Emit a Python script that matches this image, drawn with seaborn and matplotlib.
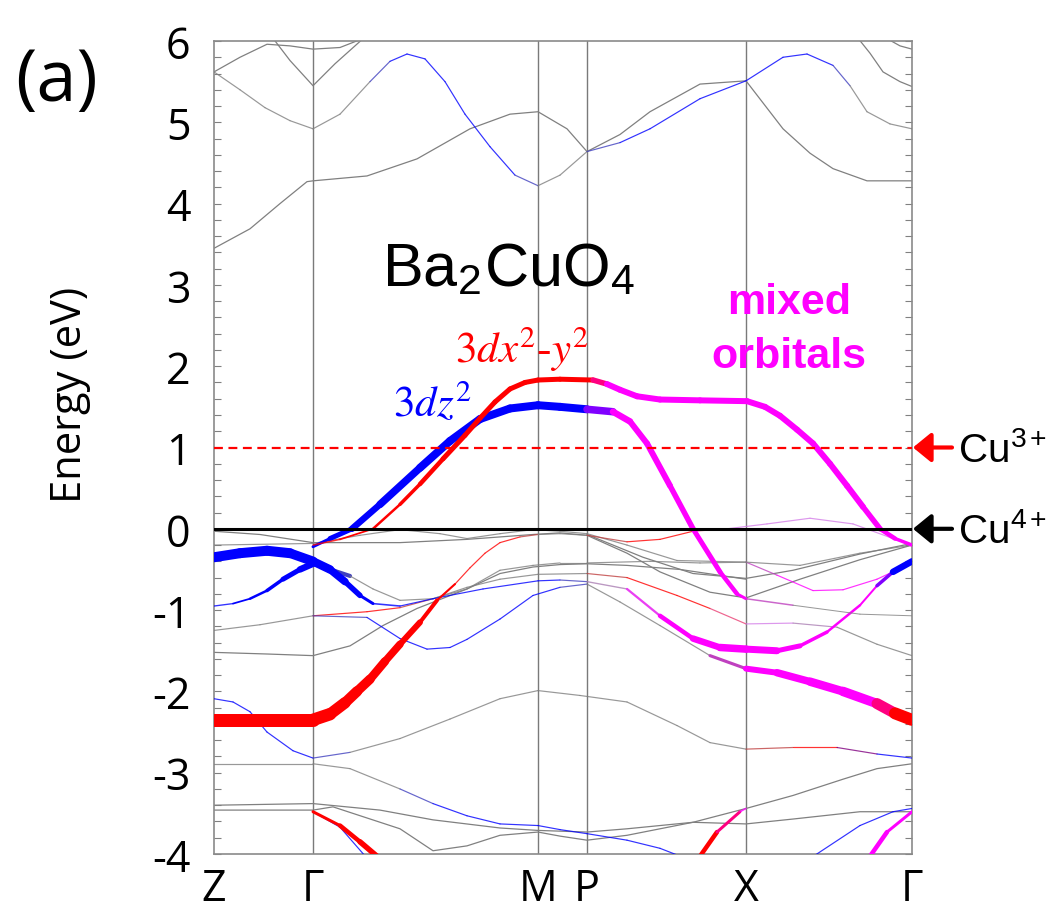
"""
Ba2CuO4 fat-band structure (Z-G-M-P-X-G) with Cu 3d orbital character.
Thin grey bands through seaborn, orbital-projected bands as LineCollections.
"""

import matplotlib
matplotlib.use("Agg")
import matplotlib.pyplot as plt
from matplotlib.collections import LineCollection
from matplotlib.colors import to_rgba
from matplotlib.ticker import MultipleLocator
import numpy as np
import pandas as pd
import seaborn as sns

# high-symmetry path
HS_K = [0.00, 0.99, 3.24, 3.73, 5.32, 6.98]
HS_LABELS = ["Z", "Γ", "M", "P", "X", "Γ"]

# --- orbital-projected bands (k, E in eV, fat-band weight, orbital character) ---
# b = 3dz2, r = 3dx2-y2, m = mixed, p = weak mixed, g = none
A_K = [0.99, 1.16, 1.38, 1.66, 2.06, 2.36, 2.66, 2.96, 3.24, 3.46, 3.73, 3.99, 4.16, 4.33,
       4.56, 4.79, 5.06, 5.23, 5.32, 5.79, 6.46, 6.98]
A_E = [-0.22, -0.12, 0.00, 0.30, 0.75, 1.08, 1.35, 1.48, 1.52, 1.50, 1.47, 1.44, 1.32, 1.05,
       0.53, 0.00, -0.53, -0.80, -0.86, -0.94, -1.05, -1.07]
A_W = [2, 4, 6, 7, 8, 8, 8, 8, 8, 8, 8, 7, 6, 6, 6, 5, 5, 4, 2, 1, 1, 1]
A_ORB = "bbbbbbbbbbbmmmmmmmmggg"

B_K = [0.99, 1.26, 1.59, 1.86, 2.06, 2.29, 2.51, 2.66, 2.81, 2.96, 3.11, 3.24, 3.46, 3.79,
       3.93, 4.06, 4.23, 4.46, 4.86, 5.33, 5.51, 5.66, 5.83, 5.99, 6.16, 6.33, 6.49, 6.66,
       6.81, 6.98]
B_E = [-0.20, -0.13, 0.00, 0.30, 0.55, 0.86, 1.15, 1.36, 1.56, 1.72, 1.80, 1.83, 1.84, 1.83,
       1.78, 1.71, 1.63, 1.59, 1.58, 1.57, 1.50, 1.39, 1.22, 1.05, 0.80, 0.53, 0.27, 0.00,
       -0.12, -0.20]
B_W = [1.5, 1.5, 2, 3, 4, 5, 5, 5, 5, 5, 5, 5, 5, 5, 6, 6, 6, 6, 6, 6, 6, 6, 6, 6, 6, 6, 6,
       5, 4, 3]
B_ORB = "rrrrrrrrrrrrrrmmmmmmmmmmmmmmmm"

C_K = [0.00, 0.46, 0.99, 1.16, 1.31, 1.43, 1.56, 1.71, 1.86, 2.06, 2.23, 2.41, 2.56, 2.71,
       2.86, 3.06, 3.24, 3.46, 3.73, 4.13, 4.46, 4.79, 5.13, 5.53, 5.96, 6.39, 6.79, 6.98]
C_E = [-2.35, -2.35, -2.35, -2.28, -2.14, -2.00, -1.85, -1.63, -1.42, -1.15, -0.88, -0.68,
       -0.48, -0.30, -0.17, -0.10, -0.07, -0.06, -0.08, -0.16, -0.13, -0.03, 0.00, 0.06, 0.13,
       0.06, -0.12, -0.20]
C_W = [13, 13, 13, 12, 11, 10, 9, 8, 7, 5, 3, 1.2, 1.2, 1.2, 1.2, 1.2, 1.2, 1.2, 1.2, 1.2,
       1.2, 1.2, 1.2, 1.2, 1.2, 1.2, 1.2, 1.2]
C_ORB = "rrrrrrrrrrrrrrrrgggrrrpppppp"

D_K = [0.00, 0.26, 0.53, 0.76, 0.99, 1.16, 1.31, 1.46, 1.59, 1.86, 2.19, 2.69, 3.24, 3.46,
       3.73, 4.13, 4.46, 4.79, 5.06, 5.32, 5.63, 5.86, 6.13, 6.46, 6.63, 6.79, 6.98]
D_E = [-0.35, -0.30, -0.27, -0.30, -0.40, -0.50, -0.65, -0.82, -0.92, -0.95, -0.86, -0.74,
       -0.64, -0.63, -0.65, -0.74, -1.07, -1.35, -1.46, -1.48, -1.50, -1.44, -1.27, -0.94,
       -0.70, -0.53, -0.40]
D_W = [10, 10, 10, 10, 9, 8, 7, 4, 2, 1.2, 1.2, 1.2, 1.2, 1.2, 1.2, 1.5, 3, 6, 7, 8, 6, 4,
       3, 2, 2, 5, 8]
D_ORB = "bbbbbbbbbbbbbbgpmmmmmmmmmbb"

E_K = [0.00, 0.19, 0.36, 0.53, 0.69, 0.86, 0.99, 1.36, 1.59, 1.86, 2.19, 2.53, 2.86, 3.19,
       3.46, 3.73, 4.36, 4.86, 5.32, 5.86, 6.46, 6.98]
E_E = [-0.95, -0.92, -0.86, -0.76, -0.62, -0.50, -0.43, -0.58, -0.74, -0.88, -0.86, -0.74,
       -0.51, -0.45, -0.42, -0.42, -0.40, -0.42, -0.41, -0.45, -0.30, -0.20]
E_W = [1.2, 1.5, 2, 3, 4, 6, 7, 1.2, 1.2, 1.2, 1.2, 1.2, 1.2, 1.2, 1.2, 1.2, 1.2, 1.2, 1.2,
       1.2, 1.2, 1.2]
E_ORB = "bbbbbbbggggggggggggggg"

G_K = [0.00, 0.46, 0.99, 1.53, 1.86, 2.13, 2.36, 2.53, 2.86, 3.19, 3.46, 3.73, 4.06, 4.46,
       4.96, 5.32, 5.63, 5.96, 6.29, 6.63, 6.81, 6.98]
G_E = [-1.25, -1.18, -1.07, -1.09, -1.35, -1.48, -1.46, -1.36, -1.11, -0.82, -0.72, -0.68,
       -0.90, -1.19, -1.56, -1.72, -1.77, -1.88, -2.00, -2.15, -2.27, -2.35]
G_W = [1.2] * 15 + [5, 7, 8, 9, 10, 12, 12]
G_ORB = "gggbbbbbbbbggggmmmmmrr"

H_K = [0.99, 1.53, 1.86, 2.19, 2.53, 2.86, 3.24, 3.73, 4.13, 4.63, 4.96, 5.32, 5.79, 6.23,
       6.63, 6.98]
H_E = [-1.07, -1.02, -0.97, -0.86, -0.72, -0.62, -0.56, -0.55, -0.60, -0.82, -0.98, -1.17,
       -1.16, -1.21, -1.42, -1.56]
H_ORB = "rrrgggggrrrppggg"

N2_K = [0.00, 0.99, 1.46, 1.86, 2.26, 2.53, 2.86, 3.19, 3.46, 3.73, 4.13, 4.63, 5.32, 5.63,
        5.99, 6.29, 6.63, 6.98]
N2_E = [-0.20, -0.18, -0.08, -0.01, -0.06, -0.12, -0.06, -0.01, -0.03, -0.06, -0.20, -0.39,
        -0.41, -0.57, -0.76, -0.75, -0.62, -0.42]
N2_ORB = "gggggggggggggmmmmm"

T3_K = [0.00, 0.26, 0.51, 0.76, 0.99, 1.26, 1.56, 1.76, 1.93, 2.11, 2.31, 2.51, 2.76, 3.01,
        3.24, 3.46, 3.73]
T3_E = [5.62, 5.40, 5.18, 5.02, 4.92, 5.10, 5.50, 5.75, 5.84, 5.78, 5.50, 5.10, 4.70, 4.35,
        4.22, 4.35, 4.64]
T3_ORB = "gggggggbbbbbbbggg"

T6_K = [3.73, 4.06, 4.36, 4.86, 5.32, 5.69, 5.93, 6.19, 6.36, 6.53, 6.76, 6.98]
T6_E = [4.64, 4.75, 4.92, 5.29, 5.51, 5.80, 5.84, 5.70, 5.45, 5.13, 4.98, 4.92]
T6_ORB = "gbbbbbbbgggg"

R1_K = [0.00, 0.19, 0.36, 0.53, 0.79, 0.99, 1.36, 1.86, 2.36, 2.86, 3.24, 3.66, 4.13, 4.63,
        4.96, 5.32, 5.79, 6.23, 6.63, 6.98]
R1_E = [-2.09, -2.13, -2.25, -2.50, -2.73, -2.82, -2.75, -2.58, -2.34, -2.09, -1.99, -2.05,
        -2.13, -2.42, -2.63, -2.71, -2.69, -2.69, -2.77, -2.82]
R1_ORB = "bbbbbbggggggggggrrbb"

R3_K = [0.00, 0.99, 1.36, 1.86, 2.19, 2.53, 2.86, 3.24, 3.46, 3.73, 4.13, 4.46, 4.71]
R3_E = [-2.89, -2.89, -2.95, -3.20, -3.38, -3.53, -3.63, -3.65, -3.70, -3.75, -3.83, -3.93,
        -4.05]
R3_ORB = "ggggbbbbbbbbb"

S1_K = [0.99, 1.26, 1.46, 1.68]
S1_E = [-3.48, -3.65, -3.85, -4.08]
S1_W = [2, 4, 5, 6]
S2_K = [0.99, 1.26, 1.55]
S2_E = [-3.48, -3.67, -4.08]
S4_K = [4.83, 5.03, 5.26, 5.32]
S4_E = [-4.08, -3.73, -3.48, -3.44]
S4_W = [5, 4, 2, 1.2]
S5_K = [5.93, 6.46, 6.79, 6.98]
S5_E = [-4.08, -3.65, -3.48, -3.44]
S6_K = [6.53, 6.73, 6.98]
S6_E = [-4.08, -3.73, -3.48]
S6_W = [5, 4, 2]

# --- bands without Cu-d weight (plain grey) ---
T1_K = [0.00, 0.26, 0.53, 0.76, 0.99, 1.26, 1.53]
T1_E = [5.62, 5.80, 5.96, 5.94, 5.90, 5.92, 6.05]
T2_K = [0.58, 0.76, 0.99, 1.21, 1.51]
T2_E = [6.05, 5.76, 5.45, 5.72, 6.05]
T4_K = [0.00, 0.36, 0.66, 0.93, 0.99, 1.53, 2.03, 2.56, 2.96, 3.24, 3.53, 3.73]
T4_E = [3.45, 3.69, 4.00, 4.27, 4.28, 4.34, 4.55, 4.92, 5.10, 5.13, 4.92, 4.64]
T5_K = [3.73, 4.06, 4.36, 4.86, 5.32, 5.69, 5.96, 6.19, 6.53, 6.98]
T5_E = [4.64, 4.85, 5.13, 5.47, 5.51, 4.92, 4.62, 4.43, 4.28, 4.28]
T7_K = [6.43, 6.56, 6.69, 6.86, 6.98]
T7_E = [6.05, 5.85, 5.62, 5.50, 5.44]
T8_K = [6.70, 6.86, 6.98]
T8_E = [6.05, 5.94, 5.90]
I_K = [0.00, 0.53, 0.99, 1.36, 1.69, 2.03, 2.53, 2.86, 3.19, 3.46, 3.73, 4.13, 4.66, 5.32]
I_E = [-1.52, -1.54, -1.56, -1.44, -1.19, -0.98, -0.74, -0.55, -0.47, -0.44, -0.43, -0.45,
       -0.50, -0.62]
N1_K = [0.00, 0.46, 0.99, 1.86, 2.53, 3.19, 3.46, 3.73, 4.13, 4.46, 4.96, 5.32, 5.86, 6.46,
        6.98]
N1_E = [-0.03, -0.07, -0.17, -0.17, -0.13, -0.07, -0.05, -0.08, -0.30, -0.53, -0.78, -0.85,
        -0.62, -0.38, -0.20]
N3_K = [3.73, 4.29, 4.79, 5.32, 5.79, 6.46, 6.98]
N3_E = [-0.07, -0.35, -0.55, -0.61, -0.51, -0.31, -0.18]
R4_K = [0.00, 0.99, 1.66, 2.19, 2.86, 3.24, 3.73, 4.13, 4.79, 5.32, 5.79, 6.46, 6.98]
R4_E = [-3.40, -3.38, -3.46, -3.58, -3.68, -3.71, -3.73, -3.69, -3.61, -3.63, -3.57, -3.48,
        -3.48]
R5_K = [0.00, 0.99, 1.19, 1.86, 2.19, 2.53, 2.86, 3.24, 3.46, 3.73, 4.13, 4.79, 5.32, 5.79,
        6.29, 6.63, 6.98]
R5_E = [-3.46, -3.46, -3.42, -3.69, -3.96, -3.90, -3.77, -3.73, -3.78, -3.83, -3.77, -3.61,
        -3.44, -3.28, -3.08, -2.95, -2.89]

ORB_COLORS = {"g": "#7f7f7f", "b": "#0000ff", "r": "#ff0000", "m": "#ff00ff", "p": "#d47ee8"}


def fat_band(ax, k, e, orb, w=None, z=3):
    """Draw one band; width and colour follow the orbital weight/character per k-point."""
    k = np.asarray(k, float)
    e = np.asarray(e, float)
    w = np.full(len(k), 1.2) if w is None else np.asarray(w, float)
    pts = np.column_stack([k, e])
    segs = np.stack([pts[:-1], pts[1:]], axis=1)
    rgba = np.array([to_rgba(ORB_COLORS[c]) for c in orb])
    cols = (rgba[:-1] + rgba[1:]) / 2
    lw = (w[:-1] + w[1:]) / 2 * 0.72
    cols[lw < 1.2, 3] = 0.8
    lc = LineCollection(segs, colors=cols, linewidths=lw, capstyle="round",
                        joinstyle="round", zorder=z)
    ax.add_collection(lc)


def main():
    sns.set_style("white")
    plt.rcParams["font.family"] = ["Open Sans", "DejaVu Sans"]
    plt.rcParams["mathtext.fontset"] = "stix"
    plt.rcParams["axes.unicode_minus"] = False
    plt.rcParams["text.color"] = "black"
    plt.rcParams["xtick.labelcolor"] = "black"
    plt.rcParams["ytick.labelcolor"] = "black"

    fig = plt.figure(figsize=(10.53, 9.2), dpi=100)
    ax = fig.add_axes([214 / 1053, 65 / 920, 698 / 1053, 813 / 920])

    # plain grey bands
    grey = [("T1", T1_K, T1_E), ("T2", T2_K, T2_E), ("T4", T4_K, T4_E), ("T5", T5_K, T5_E),
            ("T7", T7_K, T7_E), ("T8", T8_K, T8_E), ("I", I_K, I_E), ("N1", N1_K, N1_E),
            ("N3", N3_K, N3_E), ("R4", R4_K, R4_E), ("R5", R5_K, R5_E)]
    df = pd.concat([pd.DataFrame({"k": k, "E": e, "band": name}) for name, k, e in grey])
    sns.lineplot(data=df, x="k", y="E", units="band", estimator=None, sort=False,
                 color="#808080", lw=0.9, ax=ax, legend=False, zorder=2)

    # thin projected bands
    fat_band(ax, T3_K, T3_E, T3_ORB)
    fat_band(ax, T6_K, T6_E, T6_ORB)
    fat_band(ax, N2_K, N2_E, N2_ORB)
    fat_band(ax, H_K, H_E, H_ORB)
    fat_band(ax, R1_K, R1_E, R1_ORB)
    fat_band(ax, R3_K, R3_E, R3_ORB)
    fat_band(ax, S2_K, S2_E, "bbb")
    fat_band(ax, S5_K, S5_E, "bbbb")

    # fat bands
    fat_band(ax, S1_K, S1_E, "rrrr", S1_W, z=4)
    fat_band(ax, S4_K, S4_E, "rrmm", S4_W, z=4)
    fat_band(ax, S6_K, S6_E, "mmm", S6_W, z=4)
    fat_band(ax, E_K, E_E, E_ORB, E_W, z=4)
    fat_band(ax, D_K, D_E, D_ORB, D_W, z=4)
    fat_band(ax, G_K, G_E, G_ORB, G_W, z=4)
    fat_band(ax, C_K, C_E, C_ORB, C_W, z=4)
    fat_band(ax, A_K, A_E, A_ORB, A_W, z=5)
    fat_band(ax, B_K, B_E, B_ORB, B_W, z=5)

    for k in HS_K[1:-1]:
        ax.axvline(k, color="#7a7a7a", lw=1.0, zorder=1)
    ax.axhline(0, color="black", lw=2.2, zorder=6)
    ax.axhline(1, color="red", lw=1.6, ls=(0, (4, 2.5)), zorder=6)

    ax.set_xlim(HS_K[0], HS_K[-1])
    ax.set_ylim(-4, 6)
    ax.set_xticks(HS_K, HS_LABELS)
    ax.set_yticks(range(-4, 7))
    ax.yaxis.set_minor_locator(MultipleLocator(0.2))
    ax.tick_params(axis="x", length=0, labelsize=31, pad=9, labelcolor="black")
    ax.tick_params(axis="y", which="both", direction="in", left=True, right=True,
                   length=5, width=0.8, color="#808080", labelsize=31, pad=17,
                   labelcolor="black")
    ax.set_xlabel("")
    ax.set_ylabel("")
    for s in ax.spines.values():
        s.set_color("#8a8a8a")
        s.set_linewidth(1.2)

    # labels
    ax.text(1.68, 2.99, r"Ba$_{\mathregular{2}}$CuO$_{\mathregular{4}}$",
            family="Liberation Sans", fontsize=44, va="baseline", color="black", zorder=7)
    ax.text(2.41, 2.05, r"$3dx^{2}$-$y^{2}$", family="Liberation Serif", fontsize=31,
            color="red", va="baseline", zorder=7)
    ax.text(1.79, 1.39, r"$3dz^{2}$", fontsize=31, color="blue", va="baseline", zorder=7)
    ax.text(5.75, 2.65, "mixed", family="Liberation Sans", fontweight="bold", fontsize=31,
            color="magenta", ha="center", va="baseline", zorder=7)
    ax.text(5.75, 1.99, "orbitals", family="Liberation Sans", fontweight="bold", fontsize=31,
            color="magenta", ha="center", va="baseline", zorder=7)

    # valence markers at the right
    for level, colour, label in [(1.0, "red", r"Cu$^{\mathregular{3+}}$"),
                                 (0.0, "black", r"Cu$^{\mathregular{4+}}$")]:
        ax.annotate("", xy=(6.99, level), xytext=(7.38, level),
                    arrowprops=dict(arrowstyle="-|>,head_length=0.55,head_width=0.45",
                                    color=colour, lw=3, mutation_scale=20,
                                    shrinkA=0, shrinkB=0),
                    annotation_clip=False)
        ax.text(7.44, level - 0.16, label, family="Liberation Sans", fontsize=29,
                ha="left", va="baseline", color="black", clip_on=False)

    fig.text(70 / 1053, 1 - 395 / 920, "Energy (eV)", rotation=90, fontsize=30,
             ha="center", va="center", color="black")
    fig.text(57 / 1053, 1 - 82 / 920, "(a)", fontsize=52, ha="center", va="center",
             color="black")

    fig.savefig("out.png", dpi=100)
    plt.close(fig)


if __name__ == "__main__":
    main()
